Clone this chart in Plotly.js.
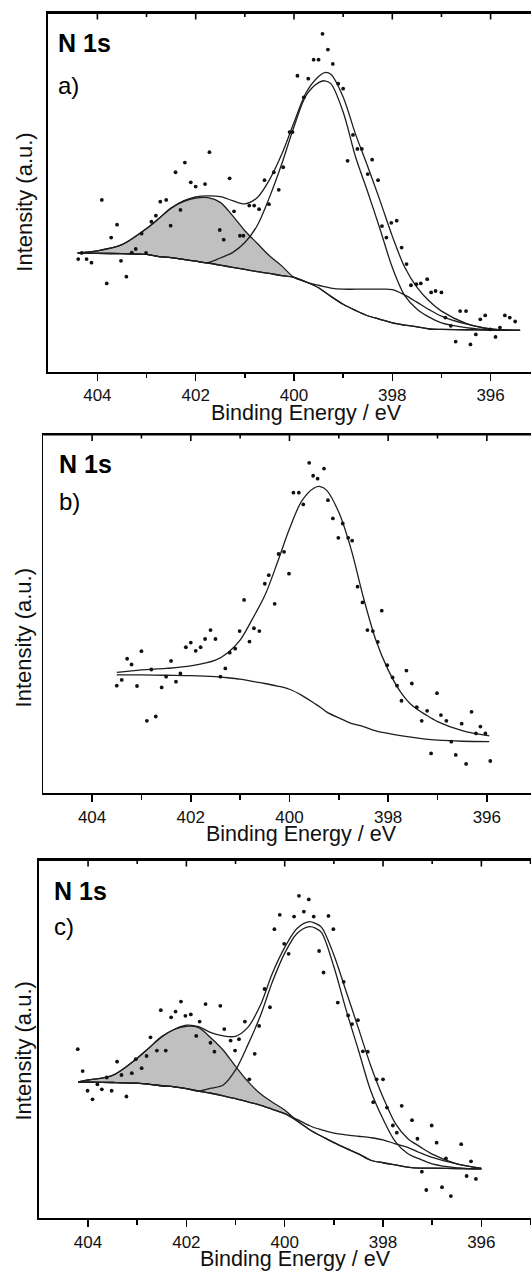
<!DOCTYPE html>
<html><head><meta charset="utf-8">
<script src="https://cdn.plot.ly/plotly-3.0.1.min.js"></script>
<style>html,body{margin:0;padding:0;background:#fff;overflow:hidden}#chart{width:531px;height:1271px}</style>
</head><body><div id="chart"></div>
<script>
// ---------- Panel a ----------
const gridA = [404.4,404.0,403.5,403.0,402.75,402.5,402.25,402.0,401.75,401.5,401.25,401.0,400.75,400.5,400.25,400.0,399.75,399.5,399.375,399.25,399.0,398.75,398.5,398.25,398.0,397.75,397.5,397.25,397.0,396.5,396.0,395.4];
const bgA    = [33.1,33.0,32.9,32.7,32.1,31.8,31.3,30.8,30.3,29.7,29.1,28.5,27.9,27.4,26.8,26.3,25.0,23.4,22.2,21.0,18.8,17.1,15.6,14.6,13.6,13.0,12.5,11.9,11.8,11.7,11.6,11.5];
const comp1A = [33.1,33.7,35.4,39.9,42.7,45.6,47.4,48.4,48.5,47.2,43.5,39.3,35.8,32.3,29.5,26.3,25.0,23.4,22.2,21.0,18.8,17.1,15.6,14.6,13.6,13.0,12.5,11.9,11.8,11.7,11.6,11.5];
const comp2A = [33.1,33.0,32.9,32.7,32.1,31.8,31.3,30.8,30.4,31.7,33.2,36.0,40.7,48.6,57.9,68.3,77.1,80.6,81.1,80.3,72.4,60.0,50.1,39.8,29.1,21.3,17.5,15.2,13.6,12.3,11.7,11.5];
const comp3A = [33.1,33.0,32.9,32.7,32.1,31.8,31.3,30.8,30.3,29.7,29.1,28.5,27.9,27.4,26.8,26.3,25.0,24.1,23.7,23.3,23.0,23.0,23.0,23.0,22.9,21.4,19.4,17.3,15.5,13.3,11.9,11.5];
const envA   = [33.1,33.7,35.4,39.9,42.7,45.6,47.6,48.7,49.0,48.8,47.7,46.8,48.5,53.5,60.6,69.5,77.9,82.3,83.4,82.9,76.6,66.3,57.2,47.7,37.8,29.2,23.6,19.7,16.9,13.5,11.9,11.5];
const dotsAE = [404.39,404.32,404.22,404.12,403.91,403.81,403.72,403.60,403.52,403.41,403.30,403.22,403.10,403.01,402.90,402.81,402.72,402.60,402.51,402.41,402.31,402.22,402.10,402.00,401.81,401.72,401.51,401.43,401.31,401.22,401.10,401.03,400.91,400.81,400.71,400.60,400.51,400.41,400.31,400.22,400.09,400.03,399.93,399.80,399.71,399.60,399.50,399.42,399.31,399.21,399.10,399.00,398.91,398.80,398.71,398.62,398.50,398.41,398.29,398.21,398.12,398.02,397.91,397.81,397.71,397.62,397.51,397.42,397.29,397.21,397.12,397.00,396.92,396.81,396.71,396.62,396.50,396.41,396.30,396.21,396.11,396.01,395.90,395.81,395.71,395.61,395.50];
const dotsAI = [31.4,33.1,31.4,30.4,47.9,24.6,37.4,41.0,30.9,26.5,33.2,34.2,38.5,33.1,41.8,43.5,47.4,47.9,40.7,55.6,45.1,58.3,52.8,51.6,52.3,61.2,39.5,36.8,53.9,44.7,37.9,37.9,46.3,46.3,45.3,53.4,46.7,55.6,50.7,57.0,66.8,66.8,82.5,76.5,81.7,87.0,87.0,94.2,89.8,85.8,80.3,78.9,58.8,66.0,62.1,62.1,55.1,59.1,53.4,40.6,37.4,41.5,42.1,34.6,30.0,24.1,24.4,24.6,25.8,22.1,22.5,22.1,15.1,12.8,8.4,16.9,16.9,7.6,10.4,14.6,15.7,11.8,9.7,12.3,15.7,15.1,14.0];

// ---------- Panel b ----------
const gridB = [403.5,403.0,402.5,402.0,401.5,401.25,401.0,400.75,400.5,400.25,400.0,399.75,399.5,399.375,399.25,399.0,398.75,398.5,398.25,398.0,397.75,397.5,397.25,397.0,396.5,395.95];
const bgB  = [33.0,33.0,32.9,32.8,32.5,32.2,31.8,31.2,30.6,29.9,29.0,27.3,25.1,24.0,22.7,21.0,19.5,18.6,17.4,16.7,16.1,15.6,15.1,14.8,14.5,14.4];
const fitB = [33.7,34.4,34.8,35.5,37.1,39.2,42.7,48.6,55.1,64.1,73.7,81.5,85.1,85.5,84.5,78.3,68.0,54.5,42.7,34.4,28.3,24.3,22.0,20.0,17.5,16.0];
const dotsBE = [403.50,403.40,403.29,403.20,403.09,403.00,402.89,402.80,402.71,402.59,402.50,402.40,402.30,402.21,402.10,402.00,401.90,401.80,401.71,401.60,401.50,401.40,401.30,401.21,401.10,401.01,400.92,400.81,400.72,400.61,400.50,400.42,400.30,400.22,400.11,400.01,399.92,399.81,399.72,399.60,399.52,399.43,399.30,399.22,399.12,399.01,398.92,398.81,398.73,398.62,398.52,398.42,398.31,398.21,398.13,398.02,397.91,397.82,397.73,397.63,397.52,397.42,397.32,397.21,397.13,397.01,396.93,396.82,396.72,396.63,396.51,396.42,396.31,396.22,396.13,396.03,395.93];
const dotsBI = [30.0,31.6,37.5,35.9,29.9,39.6,20.2,34.5,21.4,29.5,32.5,36.9,31.1,33.4,40.7,42.0,39.7,40.7,43.0,45.5,43.0,32.5,34.8,39.2,40.3,45.2,53.9,42.3,46.0,45.2,58.4,60.8,52.8,66.7,67.3,61.2,83.8,83.8,80.5,92.1,88.5,87.7,90.5,81.7,76.6,71.2,75.2,71.2,70.4,57.6,53.2,45.5,45.2,42.2,50.9,35.7,32.3,30.0,25.8,34.2,30.6,24.0,20.2,23.0,11.1,27.9,21.8,20.2,14.4,10.7,19.4,8.2,22.7,16.7,18.6,16.7,9.0];

// ---------- Panel c ----------
const gridC = [404.2,404.0,403.5,403.0,402.75,402.5,402.25,402.0,401.75,401.5,401.25,401.0,400.75,400.5,400.25,400.0,399.75,399.5,399.375,399.25,399.0,398.75,398.5,398.25,398.0,397.75,397.5,397.25,397.0,396.5,396.0];
const bgC    = [38.0,38.0,37.9,37.7,37.4,37.0,36.7,36.2,35.5,34.9,34.2,33.4,32.5,31.6,30.4,29.2,27.2,24.8,23.8,22.9,21.1,19.5,18.0,16.2,15.5,14.9,14.3,14.0,14.0,13.9,13.8];
const comp1C = [38.1,38.6,39.9,44.7,47.7,50.7,52.7,53.6,53.2,50.3,46.9,42.4,38.2,34.8,32.4,30.2,27.2,24.8,23.8,22.9,21.1,19.5,18.0,16.2,15.5,14.9,14.3,14.0,14.0,13.9,13.8];
const comp2C = [38.0,38.0,37.9,37.7,37.4,37.0,36.7,36.2,35.5,36.3,37.2,41.4,48.4,56.3,66.0,74.0,79.5,81.4,81.0,79.7,70.2,58.1,46.9,35.6,27.7,21.4,18.1,16.5,15.2,14.1,13.8];
const comp3C = [38.0,38.0,37.9,37.7,37.4,37.0,36.7,36.2,35.5,34.9,34.2,33.4,32.5,31.6,30.4,29.2,27.6,25.9,25.2,24.7,23.8,23.3,22.9,22.5,21.9,20.8,19.8,18.3,17.0,15.2,13.9];
const envC   = [38.1,38.6,39.9,44.7,47.7,50.7,52.7,53.9,53.5,51.8,50.9,50.8,53.3,59.3,68.4,75.6,80.9,82.8,82.3,81.2,73.5,63.3,53.0,42.6,33.8,26.5,22.3,20.0,17.9,15.2,14.0];
const dotsCE = [404.21,404.11,404.01,403.91,403.81,403.72,403.62,403.52,403.41,403.32,403.22,403.11,403.03,402.91,402.81,402.73,402.60,402.52,402.42,402.31,402.22,402.11,402.02,401.91,401.80,401.73,401.61,401.51,401.43,401.31,401.23,401.10,401.01,400.93,400.81,400.72,400.61,400.52,400.41,400.30,400.21,400.10,400.01,399.92,399.81,399.71,399.61,399.51,399.41,399.30,399.21,399.11,399.01,398.92,398.80,398.71,398.63,398.51,398.41,398.31,398.20,398.13,398.00,397.92,397.80,397.72,397.62,397.41,397.30,397.21,397.12,397.01,396.91,396.80,396.72,396.62,396.41,396.30,396.21,396.11];
const dotsCI = [47.2,41.1,35.6,33.2,37.4,36.0,39.3,35.6,43.7,40.0,34.0,40.5,44.4,41.9,45.3,50.5,46.8,58.1,46.8,56.1,57.7,60.5,56.5,56.9,50.9,54.9,59.8,49.0,46.5,59.3,52.8,49.6,46.8,50.0,54.9,38.8,45.9,53.7,64.0,58.9,80.7,84.7,76.6,73.8,84.2,90.0,85.6,89.0,84.2,74.6,68.6,84.4,80.7,60.2,66.0,56.6,54.2,55.3,46.6,46.5,32.4,38.8,38.8,30.9,25.9,23.9,31.4,27.4,22.2,13.0,7.9,25.9,21.1,8.7,16.7,6.2,20.7,11.8,15.9,11.0];

const tickVals = [396, 398, 400, 402, 404];
const tickText = ['396', '398', '400', '402', '404'];
const minorVals = [395, 397, 399, 401, 403];
const panelLetters = ['a)', 'b)', 'c)'];
const elementLabel = 'N 1s';
const xTitle = 'Binding Energy / eV';
const yTitle = 'Intensity (a.u.)';

// ---------- styling / layout ----------
const W = 531, H = 1271;
const FONT = 'Liberation Sans, Arial, Helvetica, sans-serif';
const LC = '#1e1e1e';
const lineStyle = {color: LC, width: 1.3, shape: 'spline', smoothing: 0.9};
const px = v => v / W;
const py = v => 1 - v / H;

const panels = [
  {left: 47.5, top: 13, bottom: 371.7, range: [405.015, 395.178], nTop: 43.3, lTop: 85.5, lx: 56.3, ty: 202, xt: [306.7, 413]},
  {left: 43.4, top: 434.5, bottom: 793.3, range: [404.987, 395.105], nTop: 464.2, lTop: 501, lx: 56.6, ty: 637.7, xt: [301.5, 834]},
  {left: 39.0, top: 860.0, bottom: 1218.3, range: [404.998, 394.99], nTop: 890.5, lTop: 926, lx: 51.5, ty: 1050.8, xt: [295.5, 1258.5]}
];

function line(x, y, ax, extra) {
  return Object.assign({type: 'scatter', mode: 'lines', x: x, y: y, xaxis: ax[0], yaxis: ax[1],
    line: lineStyle, hoverinfo: 'skip'}, extra || {});
}
function dots(x, y, ax) {
  return {type: 'scatter', mode: 'markers', x: x, y: y, xaxis: ax[0], yaxis: ax[1],
    marker: {color: '#111', size: 3.8, symbol: 'circle'}, hoverinfo: 'skip'};
}
const fillStyle = {fill: 'tonexty', fillcolor: '#c0c0c0'};

const axA = ['x', 'y'], axB = ['x2', 'y2'], axC = ['x3', 'y3'];
const data = [
  line(gridA, bgA, axA), line(gridA, comp1A, axA, fillStyle),
  line(gridA, comp2A, axA), line(gridA, comp3A, axA), line(gridA, envA, axA),
  dots(dotsAE, dotsAI, axA),
  line(gridB, bgB, axB), line(gridB, fitB, axB),
  dots(dotsBE, dotsBI, axB),
  line(gridC, bgC, axC), line(gridC, comp1C, axC, fillStyle),
  line(gridC, comp2C, axC), line(gridC, comp3C, axC), line(gridC, envC, axC),
  dots(dotsCE, dotsCI, axC)
];

const layout = {
  width: W, height: H, margin: {l: 0, r: 0, t: 0, b: 0, pad: 0},
  paper_bgcolor: '#fff', plot_bgcolor: 'rgba(0,0,0,0)',
  showlegend: false, hovermode: false,
  font: {family: FONT, color: '#111'},
  annotations: [], shapes: []
};

panels.forEach((p, i) => {
  const n = i === 0 ? '' : String(i + 1);
  const xa = 'x' + n, ya = 'y' + n;
  layout['xaxis' + n] = {
    domain: [px(p.left), 1], range: p.range, anchor: ya, autorange: false, side: 'bottom',
    showline: true, linecolor: '#000', linewidth: 1.8, mirror: true,
    ticks: 'outside', ticklen: 7, tickwidth: 1.5, tickcolor: '#000',
    tickmode: 'array', tickvals: tickVals, ticktext: tickText,
    minor: {tickmode: 'array', tickvals: minorVals, ticks: 'outside', ticklen: 4.5, tickwidth: 1.5, tickcolor: '#000', showgrid: false},
    tickfont: {family: FONT, size: 17, color: '#111'},
    showgrid: false, zeroline: false, fixedrange: true
  };
  layout['yaxis' + n] = {
    domain: [py(p.bottom), py(p.top)], range: [0, 100], anchor: xa, autorange: false,
    showline: true, linecolor: '#000', linewidth: 1.8,
    ticks: '', showticklabels: false, showgrid: false, zeroline: false, fixedrange: true
  };
  // top frame edge drawn in paper space (not clipped by the subplot)
  layout.shapes.push({type: 'line', layer: 'above', xref: 'paper', yref: 'paper',
    x0: px(p.left), x1: 1, y0: py(p.top), y1: py(p.top), line: {color: '#000', width: 2}});
  // inward ticks on the top frame edge, placed through the panel's own x scale
  tickVals.concat(minorVals).forEach(v => {
    const len = tickVals.includes(v) ? 6.5 : 4;
    layout.shapes.push({type: 'line', layer: 'above', xref: xa, yref: 'paper',
      x0: v, x1: v, y0: py(p.top), y1: py(p.top + len),
      line: {color: '#000', width: 1.6}});
  });
  layout.annotations.push(
    {xref: 'paper', yref: 'paper', x: px(p.lx), y: py(p.nTop), xanchor: 'left', yanchor: 'middle',
     text: '<b>' + elementLabel + '</b>', showarrow: false, font: {family: FONT, size: 25, color: '#000'}},
    {xref: 'paper', yref: 'paper', x: px(p.lx), y: py(p.lTop), xanchor: 'left', yanchor: 'middle',
     text: panelLetters[i], showarrow: false, font: {family: FONT, size: 24, color: '#000'}},
    {xref: 'paper', yref: 'paper', x: px(23.7), y: py(p.ty), xanchor: 'center', yanchor: 'middle',
     text: yTitle, textangle: -90, showarrow: false, font: {family: FONT, size: 22, color: '#111'}},
    {xref: 'paper', yref: 'paper', x: px(p.xt[0]), y: py(p.xt[1]), xanchor: 'center', yanchor: 'middle',
     text: xTitle, showarrow: false, font: {family: FONT, size: 21.5, color: '#111'}}
  );
});

Plotly.newPlot('chart', data, layout, {staticPlot: true, displayModeBar: false});
</script></body></html>
